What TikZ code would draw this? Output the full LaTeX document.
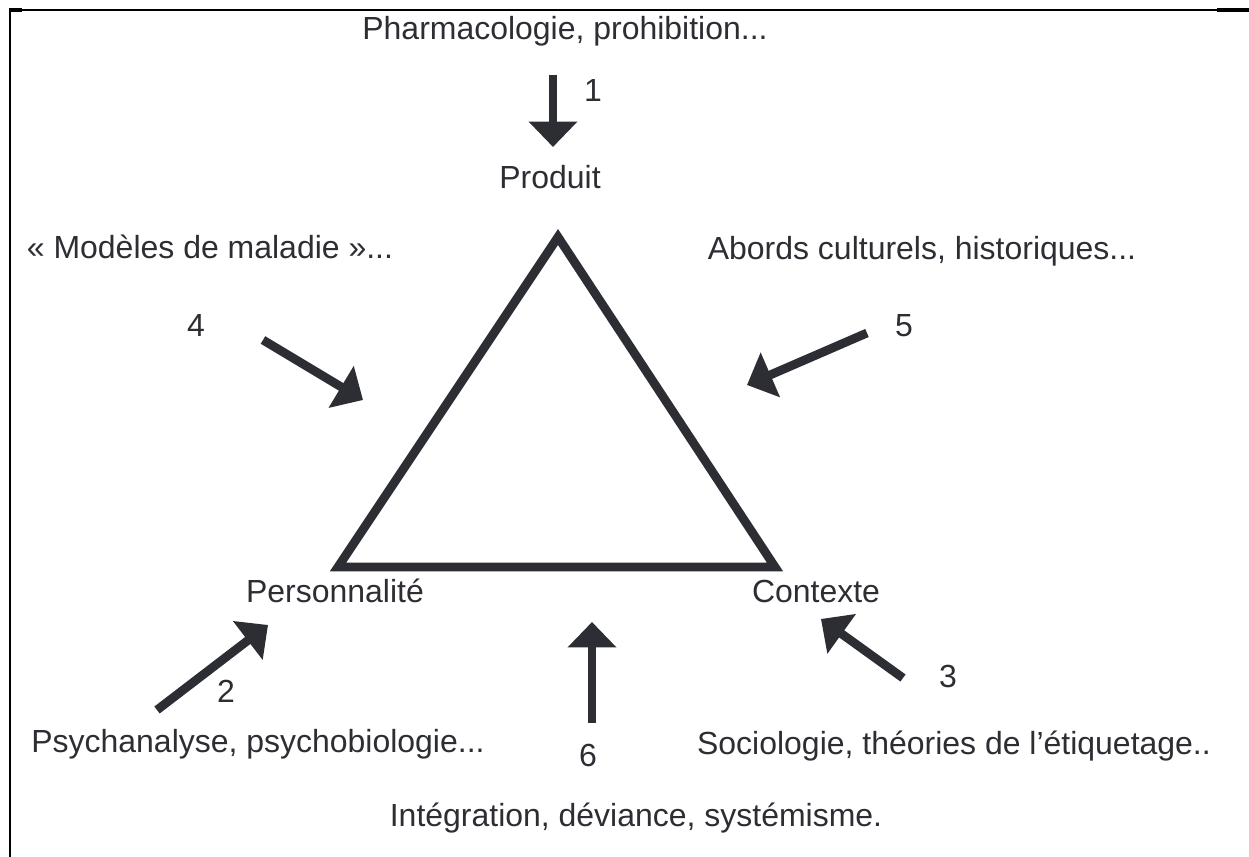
\documentclass[tikz,border=0pt]{standalone}
\usepackage{fontspec}
\setmainfont{Liberation Sans}
\usetikzlibrary{arrows.meta}

\definecolor{ink}{RGB}{44,46,52}

\begin{document}
\begin{tikzpicture}[x=0.02cm,y=-0.02cm,
    lbl/.style={text=ink,font=\fontsize{18.2}{21}\selectfont,anchor=base,inner sep=0pt},
    fatarrow/.style={draw=ink,line width=5pt,-{Triangle[width=27pt,length=14.5pt]}}]
  \useasboundingbox (0,0) rectangle (1249,857);

  % Frame (left and top only)
  \draw[line width=0.9pt] (10,857) -- (10,10) -- (1249,10);
  \draw[line width=1.8pt] (9,10) -- (22,10);
  \draw[line width=1.8pt] (1217,10) -- (1249,10);

  % Triangle
  \coordinate (prod) at (558,237);
  \coordinate (pers) at (338,567);
  \coordinate (ctx) at (775,567);
  \draw[ink,line width=5pt] (prod) -- (pers) -- (ctx) -- cycle;

  % Corner labels
  \node[lbl] (produit) at (550,189) {Produit};
  \node[lbl] (personnalite) at (335,603) {Personnalité};
  \node[lbl] (contexte) at (816,603) {Contexte};

  % Approaches
  \node[lbl] (pharma) at (565,40) {Pharmacologie, prohibition...};
  \node[lbl] (modeles) at (210,259) {« Modèles de maladie »...};
  \node[lbl] (abords) at (922,260) {Abords culturels, historiques...};
  \node[lbl] (psycha) at (258,753) {Psychanalyse, psychobiologie...};
  \node[lbl] (socio) at (954,755) {Sociologie, théories de l’étiquetage..};
  \node[lbl] (integ) at (636,827) {Intégration, déviance, systémisme.};

  % Numbers
  \node[lbl] (n1) at (593,102) {1};
  \node[lbl] (n2) at (226,703) {2};
  \node[lbl] (n3) at (948,688) {3};
  \node[lbl] (n4) at (196,337) {4};
  \node[lbl] (n5) at (904,337) {5};
  \node[lbl] (n6) at (588,767) {6};

  % Arrow ends
  \coordinate (t1) at (553,75);  \coordinate (h1) at (553,147);
  \coordinate (t2) at (157,710); \coordinate (h2) at (268,625);
  \coordinate (t3) at (903,678); \coordinate (h3) at (821,619);
  \coordinate (t4) at (263,340); \coordinate (h4) at (363,400);
  \coordinate (t5) at (867,333); \coordinate (h5) at (747,385);
  \coordinate (t6) at (592,723); \coordinate (h6) at (592,622);

  \foreach \i in {1,...,6} {
    \draw[fatarrow] (t\i) -- (h\i);
  }

\end{tikzpicture}
\end{document}
